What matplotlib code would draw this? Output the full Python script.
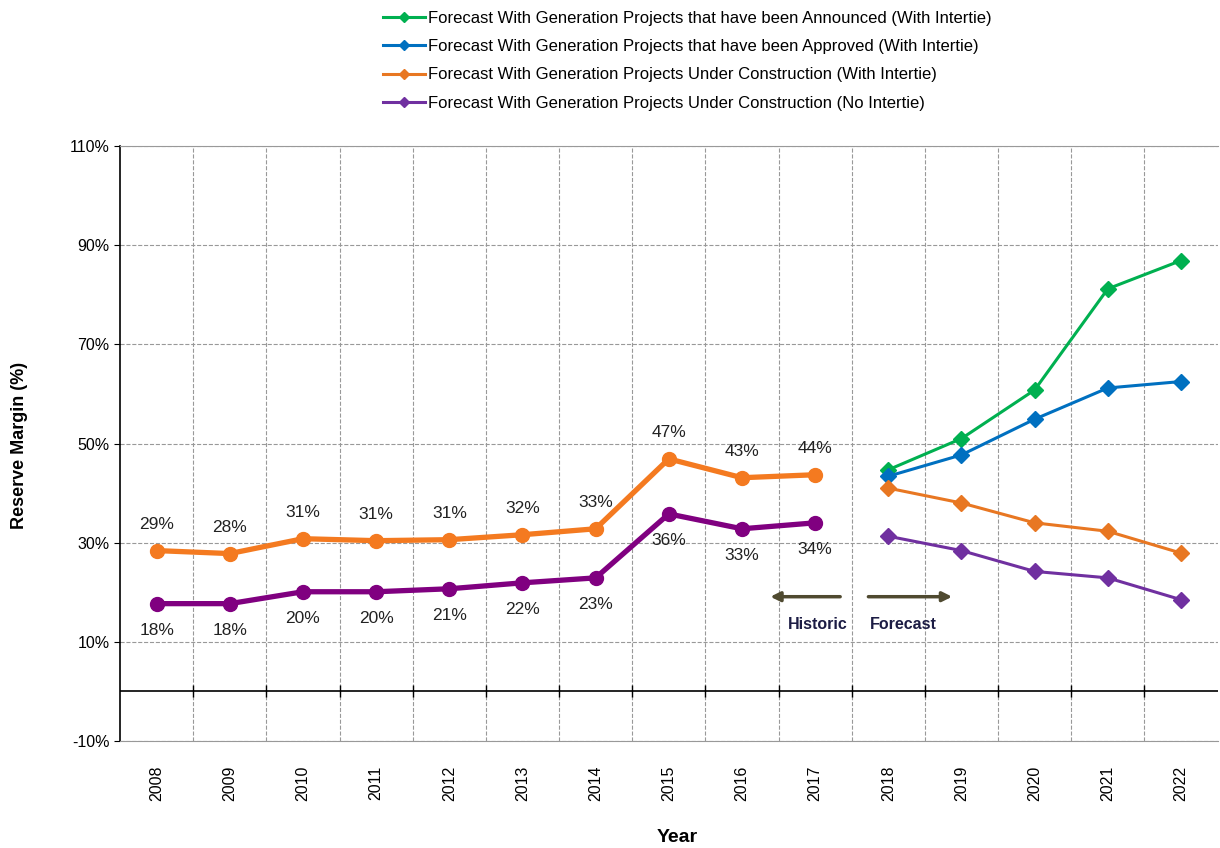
import matplotlib
matplotlib.use("Agg")
import matplotlib.pyplot as plt
import numpy as np

plt.rcParams["font.family"] = ["Liberation Sans", "DejaVu Sans"]

years = [str(y) for y in range(2008, 2023)]

# historic values (%)
hist_with_intertie = [28.4, 27.8, 30.8, 30.4, 30.6, 31.6, 32.8, 46.9, 43.1, 43.7]
hist_no_intertie = [17.7, 17.7, 20.1, 20.1, 20.7, 21.9, 22.9, 35.8, 32.8, 34.0]
hist_top_labels = ["29%", "28%", "31%", "31%", "31%", "32%", "33%", "47%", "43%", "44%"]
hist_bot_labels = ["18%", "18%", "20%", "20%", "21%", "22%", "23%", "36%", "33%", "34%"]

# forecast values (%)
fc_announced = [44.7, 51.0, 60.8, 81.2, 86.9]
fc_approved = [43.4, 47.7, 54.9, 61.2, 62.5]
fc_under_constr = [41.0, 38.0, 34.0, 32.3, 27.9]
fc_no_intertie = [31.3, 28.4, 24.2, 22.9, 18.5]

series_names = [
    "Forecast With Generation Projects that have been Announced (With Intertie)",
    "Forecast With Generation Projects that have been Approved (With Intertie)",
    "Forecast With Generation Projects Under Construction (With Intertie)",
    "Forecast With Generation Projects Under Construction (No Intertie)",
]
colors = ["#00B050", "#0070C0", "#E87722", "#7030A0"]

fig = plt.figure(figsize=(12.2, 8.48), dpi=100)
ax = fig.add_axes([0.0984, 0.1262, 0.8996, 0.7016])

x = np.arange(len(years))
xh = x[:10]
xf = x[10:]

# historic lines
ax.plot(xh, hist_with_intertie, color="#F47A20", lw=3.8, marker="o", ms=10, zorder=4)
ax.plot(xh, hist_no_intertie, color="#800080", lw=3.8, marker="o", ms=10, zorder=4)

for xi, v, t in zip(xh, hist_with_intertie, hist_top_labels):
    ax.annotate(t, (xi, v), xytext=(0, 19), textcoords="offset points",
                ha="center", va="center", fontsize=12.5, color="#222222")
for xi, v, t in zip(xh, hist_no_intertie, hist_bot_labels):
    ax.annotate(t, (xi, v), xytext=(0, -19.5), textcoords="offset points",
                ha="center", va="center", fontsize=12.5, color="#222222")

# forecast lines
handles = []
for vals, c, name in zip([fc_announced, fc_approved, fc_under_constr, fc_no_intertie],
                         colors, series_names):
    h, = ax.plot(xf, vals, color=c, lw=2.2, marker="D", ms=8, label=name, zorder=4)
    handles.append(h)

# axes setup
ax.set_xlim(-0.5, len(years) - 0.5)
ax.set_ylim(-10, 110)
ax.set_yticks(np.arange(-10, 111, 20))
ax.set_yticklabels([f"{v}%" for v in range(-10, 111, 20)], fontsize=11.5)
ax.set_xticks(x)
ax.set_xticklabels(years, rotation=90, fontsize=11.5)
ax.set_xticks(np.arange(0.5, len(years) - 1, 1), minor=True)
ax.tick_params(axis="x", which="both", length=0, pad=18)
ax.tick_params(axis="y", length=4, direction="out")

ax.grid(True, axis="y", which="major", color="#999999", ls="--", lw=0.8)
ax.grid(True, axis="x", which="minor", color="#999999", ls="--", lw=0.8)
ax.grid(False, axis="x", which="major")

for s in ["top", "bottom", "right"]:
    ax.spines[s].set_color("#999999")
ax.spines["right"].set_visible(False)
ax.spines["left"].set_color("black")
ax.spines["left"].set_linewidth(1.2)

ax.axhline(0, color="black", lw=1.2, zorder=3)
ax.vlines(np.arange(0.5, len(years) - 1, 1), -1.2, 1.2, color="black", lw=1, zorder=3)

# axis titles
fig.text(0.016, 0.475, "Reserve Margin (%)", rotation=90, ha="center", va="center",
         fontsize=13, fontweight="bold")
fig.text(0.555, 0.012, "Year", ha="center", va="center", fontsize=14, fontweight="bold")

# historic / forecast arrows
ax.annotate("", xy=(8.35, 19.1), xytext=(9.38, 19.1),
            arrowprops=dict(arrowstyle="-|>", color="#4F4A30", lw=2.5, mutation_scale=14))
ax.annotate("", xy=(10.91, 19.1), xytext=(9.69, 19.1),
            arrowprops=dict(arrowstyle="-|>", color="#4F4A30", lw=2.5, mutation_scale=14))
ax.text(9.04, 13.5, "Historic", ha="center", va="center", fontsize=11.5,
        fontweight="bold", color="#1C1C44")
ax.text(10.2, 13.5, "Forecast", ha="center", va="center", fontsize=11.5,
        fontweight="bold", color="#1C1C44")

fig.legend(handles=handles, loc="upper left", bbox_to_anchor=(0.302, 1.005),
           frameon=False, fontsize=12, handlelength=2.5, handletextpad=0.2,
           labelspacing=0.8, markerscale=0.7)

fig.savefig("out.png", dpi=100)
